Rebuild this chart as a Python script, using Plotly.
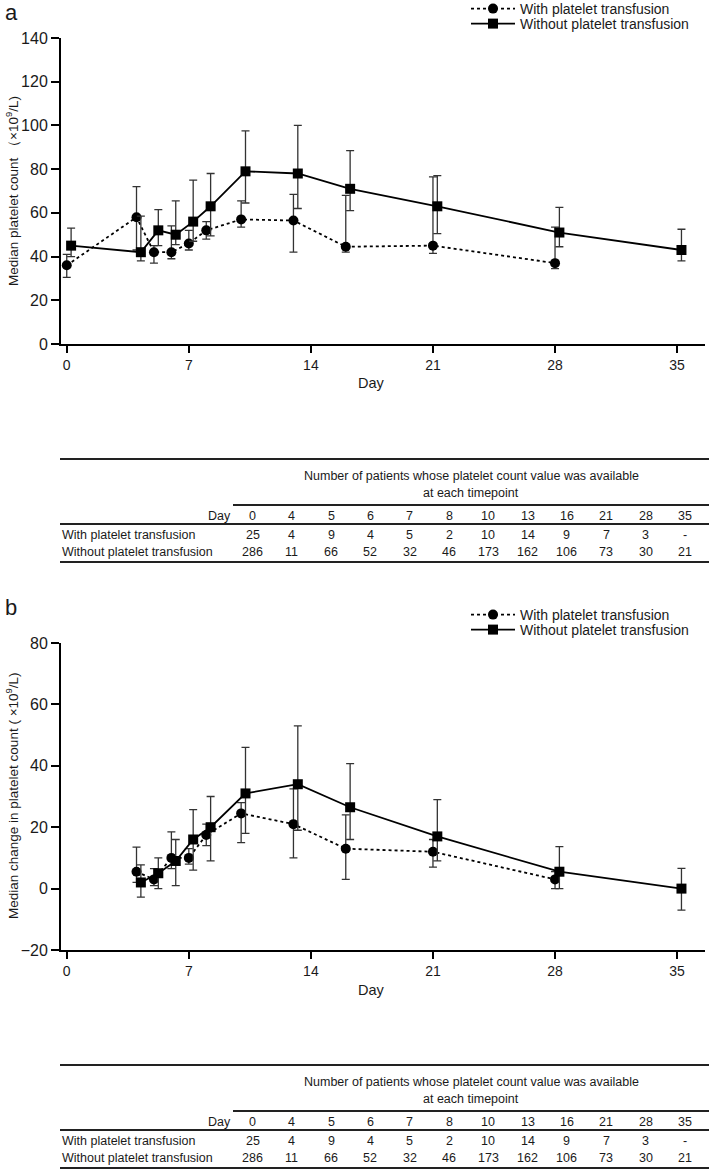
import plotly.graph_objects as go

W, H = 709, 1171

# ---- panel a: median platelet count (x10^9/L) ----
days_with = [0, 4, 5, 6, 7, 8, 10, 13, 16, 21, 28]
count_with = [36, 58, 42, 42, 46, 52, 57, 56.5, 44.5, 45, 37]
count_with_lo = [30.5, 43, 37, 39, 43, 48, 53.5, 42, 42, 41.5, 34.5]
count_with_hi = [41, 72, 45, 54, 52, 56, 65.5, 68.5, 68, 76.5, 53.5]

days_without = [0, 4, 5, 6, 7, 8, 10, 13, 16, 21, 28, 35]
count_without = [45, 42, 52, 50, 56, 63, 79, 78, 71, 63, 51, 43]
count_without_lo = [40, 38, 45, 45.5, 47, 49.5, 64.5, 62, 61, 50.5, 44.5, 38]
count_without_hi = [53, 58.5, 61.5, 65.5, 75, 78, 97.5, 100, 88.5, 77, 62.5, 52.5]

# ---- panel b: median change in platelet count ----
chg_days_with = [4, 5, 6, 7, 8, 10, 13, 16, 21, 28]
chg_with = [5.5, 3, 10, 10, 17.5, 24.5, 21, 13, 12, 3]
chg_with_lo = [2, 1, 6.5, 8, 14, 15, 10, 3, 7, 0]
chg_with_hi = [13.5, 6.5, 18.5, 13, 21, 28, 32.5, 24, 16, 5.5]

chg_days_without = [4, 5, 6, 7, 8, 10, 13, 16, 21, 28, 35]
chg_without = [2, 5, 9, 16, 20, 31, 34, 26.5, 17, 5.5, 0]
chg_without_lo = [-2.8, 0, 1, 6, 9, 18, 19, 16, 9, 0, -7]
chg_without_hi = [7.7, 10, 16, 25.7, 30, 46, 53, 40.7, 29, 13.7, 6.6]

# ---- patient numbers table (same for both panels) ----
table_days = ["0", "4", "5", "6", "7", "8", "10", "13", "16", "21", "28", "35"]
n_with = ["25", "4", "9", "4", "5", "2", "10", "14", "9", "7", "3", "-"]
n_without = ["286", "11", "66", "52", "32", "46", "173", "162", "106", "73", "30", "21"]

x_ticks = [0, 7, 14, 21, 28, 35]
DODGE = 0.25  # squares are drawn slightly right of the circles

FONT = "Liberation Sans, Arial, sans-serif"
INK = "#1a1a1a"


def fx(px):
    return px / W


def fy(py):
    return 1 - py / H


def errbar(mid, lo, hi):
    return dict(type="data", symmetric=False,
                array=[h - m for m, h in zip(mid, hi)],
                arrayminus=[m - l for m, l in zip(mid, lo)],
                color="#333333", thickness=1.3, width=4)


fig = go.Figure()


def add_pair(xa, ya, leg_w, leg_wo, dw, yw, lw, hw, dwo, ywo, lwo, hwo):
    fig.add_trace(go.Scatter(
        x=dw, y=yw, xaxis=xa, yaxis=ya, legend=leg_w,
        mode="lines+markers", name="With platelet transfusion",
        line=dict(color="black", width=1.8, dash="dot"),
        marker=dict(symbol="circle", size=10, color="black"),
        error_y=errbar(yw, lw, hw)))
    fig.add_trace(go.Scatter(
        x=[d + DODGE for d in dwo], y=ywo, xaxis=xa, yaxis=ya, legend=leg_wo,
        mode="lines+markers", name="Without platelet transfusion",
        line=dict(color="black", width=1.8),
        marker=dict(symbol="square", size=10, color="black"),
        error_y=errbar(ywo, lwo, hwo)))


add_pair("x", "y", "legend", "legend3",
         days_with, count_with, count_with_lo, count_with_hi,
         days_without, count_without, count_without_lo, count_without_hi)
add_pair("x2", "y2", "legend2", "legend4",
         chg_days_with, chg_with, chg_with_lo, chg_with_hi,
         chg_days_without, chg_without, chg_without_lo, chg_without_hi)

xdom = [fx(61), fx(705)]
xcommon = dict(domain=xdom, range=[-0.33, 36.6], tickvals=x_ticks,
               showline=True, linewidth=2, linecolor="black",
               ticks="outside", ticklen=7, tickwidth=2, tickcolor="black",
               showgrid=False, zeroline=False, automargin=False,
               tickfont=dict(size=14, color=INK, family=FONT))
ycommon = dict(showline=True, linewidth=2, linecolor="black",
               ticks="outside", ticklen=8, tickwidth=2, tickcolor="black",
               showgrid=False, zeroline=False, dtick=20, automargin=False,
               tickfont=dict(size=16, color=INK, family=FONT))

legend_style = dict(xanchor="left", yanchor="top", itemwidth=44, x=fx(466),
                    bgcolor="rgba(0,0,0,0)", tracegroupgap=0,
                    font=dict(size=14, color=INK, family=FONT))

fig.update_layout(
    width=W, height=H, autosize=False,
    margin=dict(l=0, r=0, t=0, b=0, autoexpand=False),
    paper_bgcolor="white", plot_bgcolor="white",
    font=dict(family=FONT, color=INK),
    showlegend=True,
    xaxis=dict(**xcommon, anchor="y"),
    yaxis=dict(**ycommon, domain=[fy(344), fy(38)], range=[0, 140], anchor="x"),
    xaxis2=dict(**xcommon, anchor="y2"),
    yaxis2=dict(**ycommon, domain=[fy(950), fy(643)], range=[-20, 80], anchor="x2"),
    legend=dict(**legend_style, y=fy(-7)),
    legend3=dict(**legend_style, y=fy(8)),
    legend2=dict(**legend_style, y=fy(599)),
    legend4=dict(**legend_style, y=fy(614)),
)

ann = []
shapes = []


def text(x, y, s, size=12.5, anchor="center", angle=0, xref="paper", yref="paper"):
    ann.append(dict(x=x, y=y, xref=xref, yref=yref, text=s, showarrow=False,
                    xanchor=anchor, yanchor="middle", textangle=angle,
                    font=dict(size=size, color=INK, family=FONT)))


def hline(x0, x1, y):
    shapes.append(dict(type="line", xref="paper", yref="paper",
                       x0=fx(x0), x1=fx(x1), y0=fy(y), y1=fy(y),
                       line=dict(color="#222222", width=2)))


# panel letters and axis titles
text(fx(3), fy(12), "a", size=22, anchor="left")
text(fx(3), fy(607), "b", size=22, anchor="left")
text(fx(12), fy(191), "Median platelet count （×10<sup>9</sup>/L)", size=13.5, angle=-90)
text(fx(12), fy(796), "Median change in platelet count ( ×10<sup>9</sup>/L)", size=13.5, angle=-90)
text(17.5, fy(383), "Day", size=14.5, xref="x")
text(17.5, fy(990), "Day", size=14.5, xref="x2")


def draw_table(off):
    hline(60, 709, 459 + off)
    hline(233, 709, 505 + off)
    hline(60, 709, 524 + off)
    hline(60, 709, 562 + off)
    text(fx(471), fy(476 + off),
         "Number of patients whose platelet count value was available")
    text(fx(471), fy(493 + off), "at each timepoint")
    text(fx(233), fy(516 + off), "Day", anchor="right")
    text(fx(60), fy(535 + off), "With platelet transfusion", anchor="left")
    text(fx(60), fy(552 + off), "Without platelet transfusion", anchor="left")
    for i, (d, a, b) in enumerate(zip(table_days, n_with, n_without)):
        cx = fx(252.5 + i * 39.3)
        text(cx, fy(516 + off), d)
        text(cx, fy(535 + off), a)
        text(cx, fy(552 + off), b)


draw_table(0)
draw_table(606)

fig.update_layout(annotations=ann, shapes=shapes)

# page body has an 8px default margin; drop it so the figure fills the window
fig.write_html("out.html", config={"displayModeBar": False},
               post_script="document.body.style.margin='0';")
